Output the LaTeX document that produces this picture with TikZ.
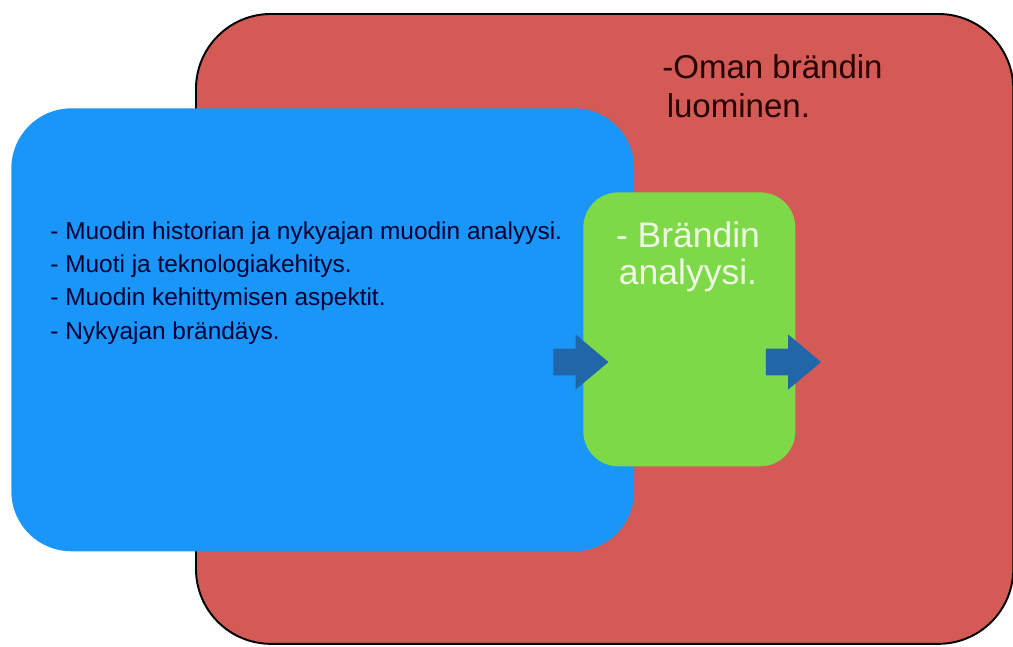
\documentclass[tikz,border=0pt]{standalone}
\usepackage{fontspec}
\setmainfont{Liberation Sans}
\usepackage{xcolor}
\usetikzlibrary{shapes.arrows,positioning}

\definecolor{brandred}{HTML}{D35A55}
\definecolor{studyblue}{HTML}{1A96F8}
\definecolor{analysisgreen}{HTML}{7DD948}
\definecolor{flowblue}{HTML}{2166A8}
\definecolor{paletext}{HTML}{EEF8E4}

\begin{document}
\begin{tikzpicture}[x=0.02cm, y=-0.02cm,
    area/.style={rectangle, inner sep=0pt, anchor=north west},
    flow/.style={single arrow, fill=flowblue, inner sep=0pt, inner ysep=0.23cm,
        minimum height=1.1cm, minimum width=1.1cm, single arrow tip angle=80,
        single arrow head indent=0pt},
    note/.style={inner sep=0pt, align=left, anchor=north west}]

    \useasboundingbox (0,0) rectangle (1013,646);

    % three nested areas
    \node[area, fill=brandred, draw=black, line width=1.1pt, rounded corners=1.5cm,
        minimum width=16.35cm, minimum height=12.6cm] (brand) at (195,13) {};
    \node[area, fill=studyblue, rounded corners=1.2cm,
        minimum width=12.46cm, minimum height=8.86cm] (study) at (11,108) {};
    \node[area, fill=analysisgreen, rounded corners=0.7cm,
        minimum width=4.24cm, minimum height=5.48cm] (analysis) at (583,192) {};

    % texts
    \node[note, font=\fontsize{18.8}{22.4}\selectfont, text=black!85!red] (brandtext) at (662,54)
        {-Oman brändin\\\hspace{2.5pt}luominen.};
    \node[note, font=\fontsize{13.9}{19}\selectfont, text=black!80!blue] (studytext) at (50,221)
        {- Muodin historian ja nykyajan muodin analyysi.\\
         - Muoti ja teknologiakehitys.\\
         - Muodin kehittymisen aspektit.\\
         - Nykyajan brändäys.};
    \node[inner sep=0pt, align=center, text=paletext, font=\fontsize{20.2}{21.2}\selectfont]
        (analysistext) at (688,257) {- Brändin\\analyysi.};

    % flow arrows
    \node[flow] (inflow) at (573,362) {};
    \node[flow] (outflow) at (785.5,362) {};

\end{tikzpicture}
\end{document}
